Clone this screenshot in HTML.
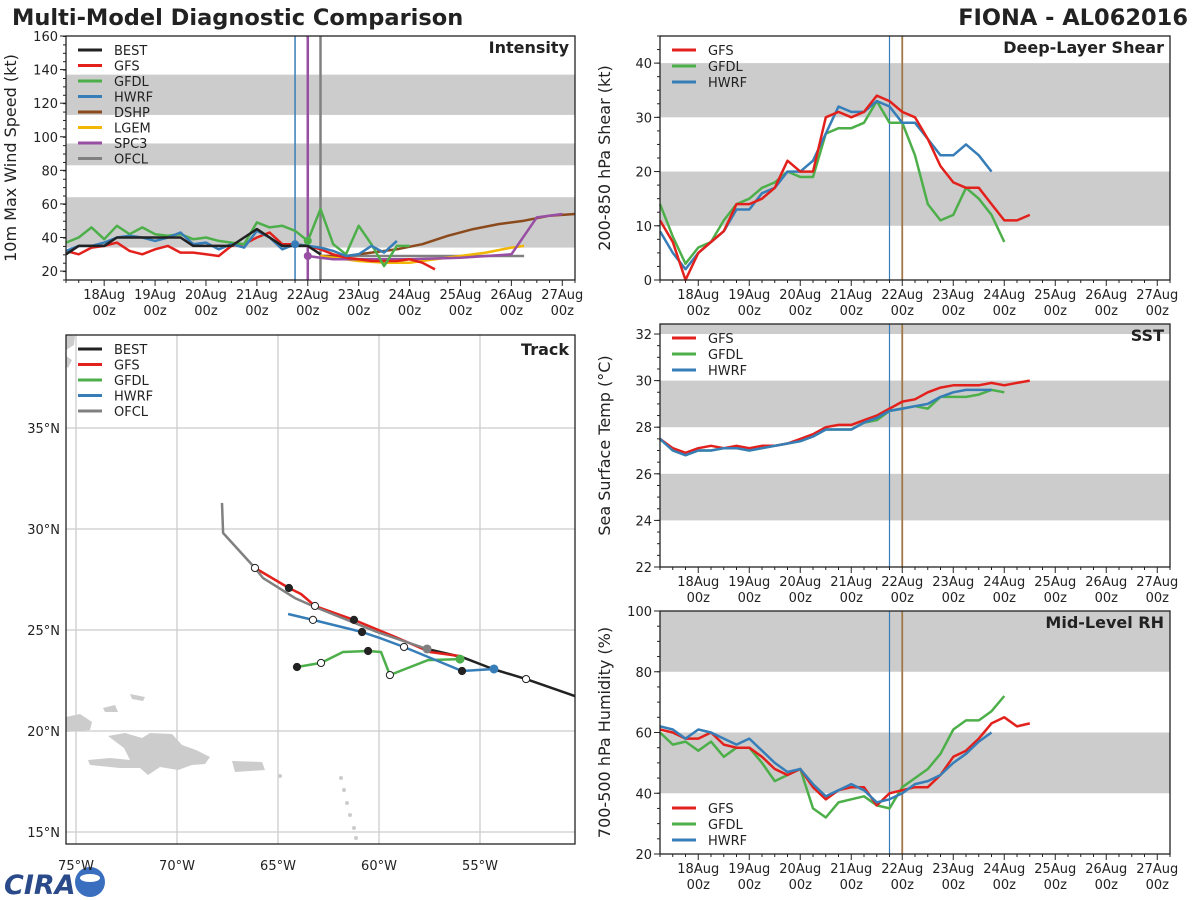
<!DOCTYPE html>
<html><head><meta charset="utf-8"><style>
body{margin:0;background:#fff;}
svg{display:block;font-family:"DejaVu Sans","Liberation Sans",sans-serif;}
</style></head><body>
<svg id="c" width="1200" height="900" viewBox="0 0 1200 900" xmlns="http://www.w3.org/2000/svg">
<text x="12" y="25" font-size="22.5" font-weight="bold" fill="#222">Multi-Model Diagnostic Comparison</text>
<text x="1188" y="25" font-size="22.5" font-weight="bold" fill="#222" text-anchor="end">FIONA - AL062016</text>
<g>
<text x="4" y="894" font-size="27" font-weight="bold" fill="#2a4a8a" font-style="italic">CIRA</text>
<circle cx="90" cy="882" r="15" fill="#3a6fc0"/>
<ellipse cx="90" cy="878" rx="10" ry="4" fill="#fff"/>
</g>
</svg>
<script>
// ---------- data ----------
const intBestT=[-0.75,-0.5,-0.25,0,0.25,0.5,0.75,1,1.25,1.5,1.75,2,2.25,2.5,2.75,3,3.25,3.5,3.75,4,4.25];
const intBestV=[30,35,35,35,40,40,40,40,40,40,35,35,35,35,40,45,40,35,35,35,30];
const intGfsV=[32,30,34,35,37,32,30,33,35,31,31,30,29,35,36,40,43,36,36,35,33,30,28,27,26,26,26,27,25,21];
const intGfdlV=[37,40,46,39,47,42,46,42,41,42,39,40,38,37,36,49,46,47,44,38,57,36,30,47,36,23,35,35];
const intHwrfV=[32,35,35,37,40,41,40,38,40,43,36,37,33,36,34,44,40,33,36,35,34,32,29,30,35,31,38];
const intDshpT=[4.25,4.75,5.25,5.75,6.25,6.75,7.25,7.75,8.25,8.75,9.25];
const intDshpV=[29,29,31,33,36,41,45,48,50,53,54];
const intLgemT=[4.25,5,5.5,6,6.5,7,7.5,8,8.25];
const intLgemV=[29,26,25,25,27,29,31,34,35];
const intSpc3T=[4,4.25,4.5,5,6,7,8,8.5,9];
const intSpc3V=[29,28,27,27,27,28,30,52,54];
const intOfclT=[4.25,5,6,7,8,8.25];
const intOfclV=[29,29,29,29,29,29];

const shrGfsV=[11,7,0,5,7,9,14,14,15,17,22,20,20,30,31,30,31,34,33,31,30,26,21,18,17,17,14,11,11,12];
const shrGfdlV=[14,8,3,6,7,11,14,15,17,18,20,19,19,27,28,28,29,33,29,29,23,14,11,12,17,15,12,7];
const shrHwrfV=[9,5,2,5,7,9,13,13,16,17,20,20,22,27,32,31,31,33,32,29,29,26,23,23,25,23,20];

const sstGfsV=[27.5,27.1,26.9,27.1,27.2,27.1,27.2,27.1,27.2,27.2,27.3,27.5,27.7,28.0,28.1,28.1,28.3,28.5,28.8,29.1,29.2,29.5,29.7,29.8,29.8,29.8,29.9,29.8,29.9,30.0];
const sstGfdlV=[27.5,27.0,26.8,27.0,27.0,27.1,27.1,27.0,27.1,27.2,27.3,27.4,27.6,27.9,27.9,27.9,28.2,28.3,28.7,28.8,28.9,28.8,29.3,29.3,29.3,29.4,29.6,29.5];
const sstHwrfV=[27.5,27.0,26.8,27.0,27.0,27.1,27.1,27.0,27.1,27.2,27.3,27.4,27.6,27.9,27.9,27.9,28.2,28.4,28.7,28.8,28.9,29.0,29.3,29.5,29.6,29.6,29.6];

const rhGfsV=[61,60,58,58,60,56,55,55,52,48,46,48,42,38,41,42,42,36,40,41,42,42,46,52,54,58,63,65,62,63];
const rhGfdlV=[60,56,57,54,57,52,55,55,50,44,46,48,35,32,37,38,39,36,35,42,45,48,53,61,64,64,67,72];
const rhHwrfV=[62,61,58,61,60,58,56,58,54,50,47,48,43,39,41,43,41,37,38,40,43,44,46,50,53,57,60];

const dayLabels=['18Aug','19Aug','20Aug','21Aug','22Aug','23Aug','24Aug','25Aug','26Aug','27Aug'];

const trBestLon=[-57.62,-55.89,-54.36,-52.72,-50.30];
const trBestLat=[24.06,23.66,23.07,22.57,21.73];
const trGfsLon=[-66.14,-64.46,-63.86,-63.17,-61.24,-59.06,-57.48,-55.99];
const trGfsLat=[28.07,27.08,26.78,26.19,25.50,24.60,23.91,23.71];
const trOfclLon=[-67.77,-67.72,-66.14,-65.74,-64.16,-63.17,-60.10,-57.62];
const trOfclLat=[31.29,29.80,28.07,27.57,26.58,26.14,24.90,24.06];
const trHwrfLon=[-64.50,-63.27,-60.84,-59.95,-58.76,-55.89,-54.31];
const trHwrfLat=[25.79,25.50,24.90,24.60,24.16,22.97,23.07];
const trGfdlLon=[-64.06,-62.87,-61.78,-60.54,-59.90,-59.46,-57.57,-55.99];
const trGfdlLat=[23.17,23.37,23.91,23.96,23.91,22.77,23.51,23.56];

// ---------- helpers ----------
const NS='http://www.w3.org/2000/svg';
const svg=document.getElementById('c');
function mk(tag,attrs,parent){const e=document.createElementNS(NS,tag);for(const k in attrs)e.setAttribute(k,attrs[k]);(parent||svg).appendChild(e);return e;}
const C={BEST:'#222222',GFS:'#e3211c',GFDL:'#4daf4a',HWRF:'#377eb8',DSHP:'#8b4a1c',LGEM:'#f2b705',SPC3:'#984ea3',OFCL:'#808080'};
function range(n){const a=[];for(let i=0;i<n;i++)a.push(-0.75+0.25*i);return a;}

function timePanel(name,x0,x1,y0,y1,vmin,vmax,bands,yticks,ylabel,title,vlines){
  const g=mk('g',{});
  
  
  const sx=d=>x0+(d+0.75)/10*(x1-x0);
  const sy=v=>y1-(v-vmin)/(vmax-vmin)*(y1-y0);
  bands.forEach(b=>{const r=mk('rect',{x:x0,y:sy(Math.min(b[1],vmax)),width:x1-x0,height:sy(b[0])-sy(Math.min(b[1],vmax)),fill:'#cccccc'},g);
    
    });
  for(let q=-3;q<=37;q++){const d=q*0.25;const x=sx(d);if(x<x0-0.5||x>x1+0.5)continue;const major=q%4===0;
    mk('line',{x1:x,x2:x,y1:y1,y2:y1+(major?6:3),stroke:'#222','stroke-width':1},g);}
  dayLabels.forEach((l,i)=>{const x=sx(i);const t=mk('text',{x:x,y:y1+19,'font-size':13,'text-anchor':'middle',fill:'#222'},g);t.textContent=l;
    
    
    const t2=mk('text',{x:x,y:y1+35,'font-size':13,'text-anchor':'middle',fill:'#222'},g);t2.textContent='00z';});
  yticks.forEach(v=>{const y=sy(v);mk('line',{x1:x0-6,x2:x0,y1:y,y2:y,stroke:'#222'},g);
    const t=mk('text',{x:x0-8,y:y+5,'font-size':13,'text-anchor':'end',fill:'#222'},g);t.textContent=v;
    
    });
  const step=(yticks[1]-yticks[0])/4;
  for(let v=vmin;v<=vmax;v+=step){mk('line',{x1:x0-3,x2:x0,y1:sy(v),y2:sy(v),stroke:'#222'},g);}
  const yl=mk('text',{transform:`translate(${x0-50},${(y0+y1)/2}) rotate(-90)`,'font-size':16,'text-anchor':'middle',fill:'#222'},g);
  yl.textContent=ylabel;
  
  
  const tt=mk('text',{x:x1-6,y:y0+17,'font-size':16,'font-weight':'bold','text-anchor':'end',fill:'#222'},g);tt.textContent=title;
  
  
  vlines.forEach(v=>{const l=mk('line',{x1:sx(v[0]),x2:sx(v[0]),y1:y0,y2:y1,stroke:v[1],'stroke-width':v[2]||1.5},g);
    
    });
  return {g,sx,sy,clip(){mk('rect',{x:x0,y:y0,width:x1-x0,height:y1-y0,fill:'none',stroke:'#222','stroke-width':1.3},g);}};
}
function series(p,ts,vs,col,nm){
  const pts=ts.map((t,i)=>p.sx(t).toFixed(1)+','+p.sy(vs[i]).toFixed(1)).join(' ');
  const l=mk('polyline',{points:pts,fill:'none',stroke:col,'stroke-width':2.5,'stroke-linejoin':'round'},p.g);
  
  
}
function legend(g,x,y,names,dy){
  names.forEach((n,i)=>{mk('line',{x1:x,x2:x+24,y1:y+i*dy,y2:y+i*dy,stroke:C[n],'stroke-width':3},g);
    const t=mk('text',{x:x+36,y:y+i*dy+5,'font-size':13,fill:'#222'},g);t.textContent=n;
    
    });
}

// ---------- Intensity ----------
const pI=timePanel('intensity',66,575,36,280,14.7,160,[[34,64],[83,96],[113,137]],[20,40,60,80,100,120,140,160],'10m Max Wind Speed (kt)','Intensity',[[3.75,'#377eb8',1.5],[4.0,'#984ea3',2.5],[4.25,'#808080',2.5]]);
series(pI,intOfclT,intOfclV,C.OFCL,'ofcl');
series(pI,intDshpT,intDshpV,C.DSHP,'dshp');
series(pI,intLgemT,intLgemV,C.LGEM,'lgem');
series(pI,intSpc3T,intSpc3V,C.SPC3,'spc3');
series(pI,range(intGfsV.length),intGfsV,C.GFS,'gfs');
series(pI,range(intGfdlV.length),intGfdlV,C.GFDL,'gfdl');
series(pI,range(intHwrfV.length),intHwrfV,C.HWRF,'hwrf');
series(pI,intBestT,intBestV,C.BEST,'best');
mk('circle',{cx:pI.sx(3.75),cy:pI.sy(intHwrfV[18]),r:4,fill:C.HWRF},pI.g);
mk('circle',{cx:pI.sx(4),cy:pI.sy(intSpc3V[0]),r:4,fill:C.SPC3},pI.g);
mk('circle',{cx:pI.sx(4),cy:pI.sy(intGfdlV[19]),r:4,fill:C.GFDL},pI.g);
pI.clip();
legend(pI.g,78,50,['BEST','GFS','GFDL','HWRF','DSHP','LGEM','SPC3','OFCL'],15.5);

// ---------- Shear ----------
const pS=timePanel('shear',660,1170,36,280,0,45,[[10,20],[30,40]],[0,10,20,30,40],'200-850 hPa Shear (kt)','Deep-Layer Shear',[[3.75,'#377eb8',1.2],[4.0,'#a0784a',1.8]]);
series(pS,range(shrGfdlV.length),shrGfdlV,C.GFDL,'gfdl');
series(pS,range(shrHwrfV.length),shrHwrfV,C.HWRF,'hwrf');
series(pS,range(shrGfsV.length),shrGfsV,C.GFS,'gfs');
pS.clip();legend(pS.g,672,50,['GFS','GFDL','HWRF'],16);

// ---------- SST ----------
const pT=timePanel('sst',660,1170,324,567,22,32.43,[[24,26],[28,30],[32,33]],[22,24,26,28,30,32],'Sea Surface Temp (°C)','SST',[[3.75,'#377eb8',1.2],[4.0,'#a0784a',1.8]]);
series(pT,range(sstGfdlV.length),sstGfdlV,C.GFDL,'gfdl');
series(pT,range(sstGfsV.length),sstGfsV,C.GFS,'gfs');
series(pT,range(sstHwrfV.length),sstHwrfV,C.HWRF,'hwrf');
pT.clip();legend(pT.g,672,338,['GFS','GFDL','HWRF'],16);

// ---------- RH ----------
const pR=timePanel('rh',660,1170,611,854,20,100,[[40,60],[80,100]],[20,40,60,80,100],'700-500 hPa Humidity (%)','Mid-Level RH',[[3.75,'#377eb8',1.2],[4.0,'#a0784a',1.8]]);
series(pR,range(rhGfdlV.length),rhGfdlV,C.GFDL,'gfdl');
series(pR,range(rhGfsV.length),rhGfsV,C.GFS,'gfs');
series(pR,range(rhHwrfV.length),rhHwrfV,C.HWRF,'hwrf');
pR.clip();legend(pR.g,672,808,['GFS','GFDL','HWRF'],16);

// ---------- Track ----------
const tg=mk('g',{});


const tx=lon=>76+(lon+75)*20.2, ty=lat=>428-(lat-35)*20.2;
[['M66,717 L80,714 L92,722 L90,730 L66,732 Z'],['M108,736 L125,733 L142,738 L150,733 L172,734 L182,745 L196,750 L210,757 L205,764 L192,765 L178,770 L160,767 L148,775 L140,768 L120,768 L90,765 L88,760 L110,758 L130,760 L124,748 Z'],['M232,761 L262,762 L265,770 L235,772 Z'],['M103,708 L115,705 L118,712 L105,712 Z'],['M130,694 L145,697 L143,701 L132,699 Z'],['M66,335 L75,336 L74,345 L66,350 Z'],['M66,356 L72,360 L68,368 L66,366 Z']].forEach(d=>{
  const p=mk('path',{d:d[0],fill:'#cccccc'},tg);
  
  });
[[341,778],[344,790],[347,803],[350,815],[354,828],[356,838],[280,776]].forEach(c=>mk('circle',{cx:c[0],cy:c[1],r:2,fill:'#cccccc'},tg));
for(let lon=-75;lon<=-55;lon+=5){const x=tx(lon);mk('line',{x1:x,x2:x,y1:335,y2:844,stroke:'#cccccc','stroke-width':1.3},tg);
  const t=mk('text',{x:x,y:870,'font-size':13,'text-anchor':'middle',fill:'#222'},tg);t.textContent=(-lon)+'°W';
  
  }
for(let lat=15;lat<=35;lat+=5){const y=ty(lat);mk('line',{x1:66,x2:575,y1:y,y2:y,stroke:'#cccccc','stroke-width':1.3},tg);
  const t=mk('text',{x:60,y:y+5,'font-size':13,'text-anchor':'end',fill:'#222'},tg);t.textContent=lat+'°N';
  
  }
function trk(lons,lats,col,nm){
  const pts=lons.map((l,i)=>tx(l).toFixed(1)+','+ty(lats[i]).toFixed(1)).join(' ');
  const p=mk('polyline',{points:pts,fill:'none',stroke:col,'stroke-width':2.5,'stroke-linejoin':'round'},tg);
  
  
}
trk(trBestLon,trBestLat,C.BEST,'best');
trk(trGfdlLon,trGfdlLat,C.GFDL,'gfdl');
trk(trHwrfLon,trHwrfLat,C.HWRF,'hwrf');
trk(trGfsLon,trGfsLat,C.GFS,'gfs');
trk(trOfclLon,trOfclLat,C.OFCL,'ofcl');
function dot(lon,lat,fill){mk('circle',{cx:tx(lon),cy:ty(lat),r:3.6,fill:fill,stroke:'#222','stroke-width':1},tg);}
dot(trGfsLon[0],trGfsLat[0],'#fff');dot(trGfsLon[1],trGfsLat[1],'#222');dot(trGfsLon[3],trGfsLat[3],'#fff');dot(trGfsLon[4],trGfsLat[4],'#222');
dot(trHwrfLon[1],trHwrfLat[1],'#fff');dot(trHwrfLon[2],trHwrfLat[2],'#222');dot(trHwrfLon[4],trHwrfLat[4],'#fff');dot(trHwrfLon[5],trHwrfLat[5],'#222');
dot(trGfdlLon[0],trGfdlLat[0],'#222');dot(trGfdlLon[1],trGfdlLat[1],'#fff');dot(trGfdlLon[3],trGfdlLat[3],'#222');dot(trGfdlLon[5],trGfdlLat[5],'#fff');
dot(trBestLon[3],trBestLat[3],'#fff');
mk('circle',{cx:tx(trHwrfLon[6]),cy:ty(trHwrfLat[6]),r:4.5,fill:C.HWRF},tg);
mk('circle',{cx:tx(trGfdlLon[7]),cy:ty(trGfdlLat[7]),r:4.5,fill:C.GFDL},tg);
mk('circle',{cx:tx(trOfclLon[7]),cy:ty(trOfclLat[7]),r:4.5,fill:C.OFCL},tg);
mk('rect',{x:66,y:335,width:509,height:509,fill:'none',stroke:'#222','stroke-width':1.3},tg);
const tt=mk('text',{x:569,y:355,'font-size':16,'font-weight':'bold','text-anchor':'end',fill:'#222'},tg);tt.textContent='Track';


legend(tg,78,349,['BEST','GFS','GFDL','HWRF','OFCL'],15.5);
</script>
</body></html>
